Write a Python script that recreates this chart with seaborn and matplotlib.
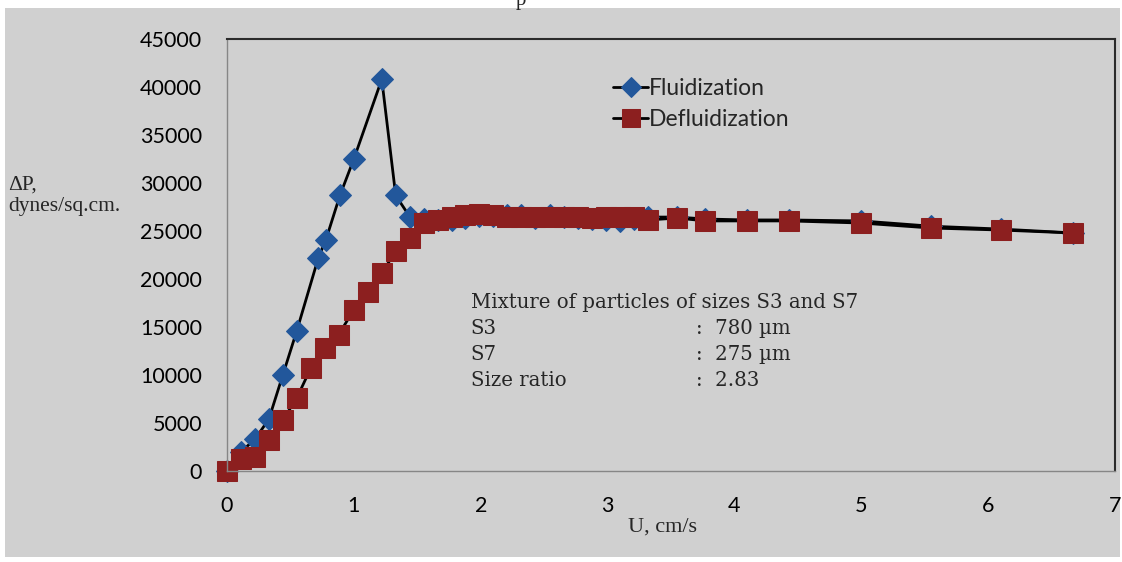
import matplotlib
matplotlib.use("Agg")
import matplotlib.pyplot as plt
import seaborn as sns
import pandas as pd
from matplotlib.patches import Rectangle

# ── Data ──────────────────────────────────────────────────────────────────────
u_fluid = [0.0, 0.11, 0.22, 0.33, 0.44, 0.55, 0.72, 0.78, 0.89, 1.0, 1.22, 1.33,
           1.44, 1.55, 1.66, 1.77, 1.88, 1.99, 2.1, 2.21, 2.32, 2.43, 2.55, 2.66,
           2.77, 2.88, 2.99, 3.1, 3.21, 3.32, 3.55, 3.77, 4.1, 4.43, 5.0, 5.55,
           6.1, 6.67]
dp_fluid = [0, 2000, 3300, 5400, 10000, 14600, 22200, 24100, 28700, 32500, 40800, 28700,
            26500, 26300, 26100, 26150, 26350, 26550, 26600, 26650, 26650, 26350, 26650, 26500,
            26400, 26300, 26150, 26050, 26250, 26450, 26450, 26250, 26150, 26150, 26050, 25500,
            25200, 24800]

u_defluid = [0.0, 0.11, 0.22, 0.33, 0.44, 0.55, 0.66, 0.77, 0.88, 1.0, 1.11, 1.22,
             1.33, 1.44, 1.55, 1.66, 1.77, 1.88, 1.99, 2.1, 2.21, 2.32, 2.43, 2.55,
             2.66, 2.77, 2.88, 2.99, 3.1, 3.21, 3.32, 3.55, 3.77, 4.1, 4.43, 5.0,
             5.55, 6.1, 6.67]
dp_defluid = [0, 1250, 1500, 3200, 5300, 7600, 10700, 12800, 14200, 16800, 18650, 20600,
              22900, 24300, 25800, 26100, 26450, 26650, 26750, 26650, 26450, 26450, 26450, 26450,
              26450, 26450, 26400, 26450, 26450, 26450, 26150, 26350, 26050, 26050, 26050, 25830,
              25310, 25100, 24790]

x_ticks = [0, 1, 2, 3, 4, 5, 6, 7]
y_ticks = [0, 5000, 10000, 15000, 20000, 25000, 30000, 35000, 40000, 45000]

info_keys = ["S3", "S7", "Size ratio"]
info_vals = ["780 µm", "275 µm", "2.83"]

BG = "#d0d0d0"
BLUE = "#22579b"
RED = "#8c1f1f"

sns.set_style("white")
plt.rcParams["font.family"] = ["Lato", "DejaVu Sans"]

fig = plt.figure(figsize=(11.22, 5.62), dpi=100, facecolor="white")
# grey chart panel
fig.patches.append(Rectangle((5 / 1122, 1 - 557 / 562), 1115 / 1122, 549 / 562,
                             transform=fig.transFigure, facecolor=BG,
                             edgecolor="none", zorder=-10))
ax = fig.add_axes([227 / 1122, 1 - 471 / 562, 888 / 1122, 432 / 562])
ax.set_zorder(1)
ax.set_facecolor(BG)

df_f = pd.DataFrame({"U": u_fluid, "dP": dp_fluid})
df_d = pd.DataFrame({"U": u_defluid, "dP": dp_defluid})

sns.lineplot(data=df_f, x="U", y="dP", ax=ax, color="black", lw=2.0,
             sort=False, estimator=None, marker="D", markersize=11,
             markerfacecolor=BLUE, markeredgecolor=BLUE, label="Fluidization")
sns.lineplot(data=df_d, x="U", y="dP", ax=ax, color="black", lw=2.0,
             sort=False, estimator=None, marker="s", markersize=14,
             markerfacecolor=RED, markeredgecolor=RED, label="Defluidization")

ax.set_xlim(0, 7)
ax.set_ylim(0, 45000)
ax.set_xticks(x_ticks)
ax.set_yticks(y_ticks)
ax.tick_params(axis="both", direction="out", length=5, width=1, color="#868686",
               labelsize=15.5, labelcolor="black")
ax.tick_params(axis="y", pad=13)
ax.tick_params(axis="x", pad=13)
ax.set_xlabel("")
ax.set_ylabel("")

for s in ["top", "right"]:
    ax.spines[s].set_color("#2b2b2b")
    ax.spines[s].set_linewidth(1.5)
for s in ["left", "bottom"]:
    ax.spines[s].set_color("#868686")
    ax.spines[s].set_linewidth(1.0)
for ln in ax.lines:
    ln.set_clip_on(False)

# axis titles (serif, placed like the original)
fig.text(8 / 1122, 1 - 196 / 562, "ΔP,\ndynes/sq.cm.", family="Liberation Serif",
         fontsize=15.5, ha="left", va="center", linespacing=1.15)
fig.text(662 / 1122, 1 - 527 / 562, "U, cm/s", family="Liberation Serif",
         fontsize=16, ha="center", va="center")

# annotation block
ax.text(1.92, 17500, "Mixture of particles of sizes S3 and S7", family="DejaVu Serif",
        fontsize=14.2, ha="left", va="center")
for i, (k, v) in enumerate(zip(info_keys, info_vals)):
    yv = 14800 - i * 2700
    ax.text(1.92, yv, k, family="DejaVu Serif", fontsize=14.2, ha="left", va="center")
    ax.text(3.7, yv, ":  " + v, family="DejaVu Serif", fontsize=14.2, ha="left", va="center")

leg = ax.legend(loc="upper left", bbox_to_anchor=(0.412, 0.958), frameon=False,
                fontsize=16.5, handlelength=1.5, handletextpad=0.05, labelspacing=0.45,
                markerscale=0.9)

# fragment of text cut at the top edge
fig.text(521 / 1122, 1.0, "p", family="Liberation Serif", fontsize=15,
         ha="center", va="center")

fig.savefig("out.png", dpi=100, facecolor="white")
